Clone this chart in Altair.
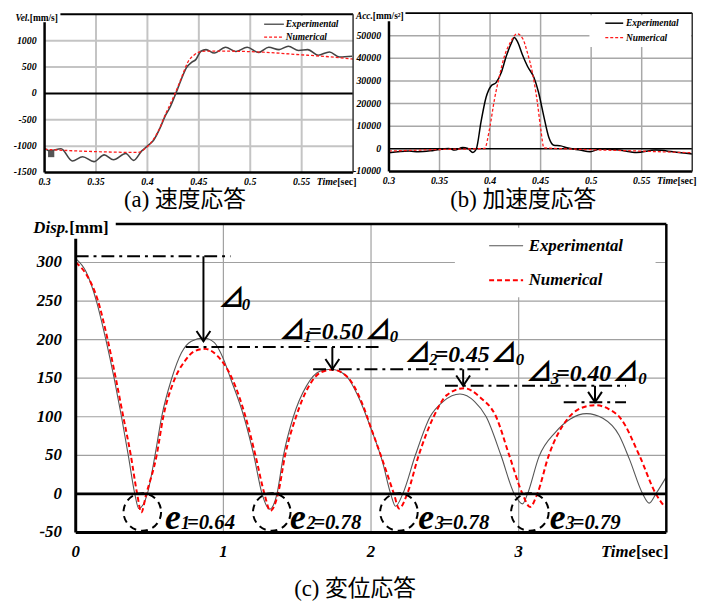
import altair as alt
import pandas as pd

# ---------------- (a) velocity response ----------------
a_exp_t = [0.300, 0.305, 0.316, 0.327, 0.337, 0.348, 0.358, 0.367, 0.379, 0.3865, 0.3945, 0.401, 0.406,
           0.412, 0.417, 0.422, 0.428, 0.433, 0.438, 0.443, 0.447, 0.452, 0.457, 0.465, 0.476, 0.486,
           0.497, 0.508, 0.518, 0.528, 0.537, 0.547, 0.556, 0.566, 0.577, 0.587, 0.599]
a_exp_v = [-1044, -1090, -1050, -1281, -1200, -1294, -1165, -1258, -1138, -1270, -1090, -981, -888,
           -669, -440, -263, 19, 269, 488, 590, 640, 800, 831, 765, 875, 795,
           875, 775, 875, 831, 894, 813, 831, 725, 785, 690, 705]
a_num_t = [0.300, 0.330, 0.353, 0.391, 0.398, 0.404, 0.411, 0.417, 0.423, 0.430, 0.435, 0.439, 0.446,
           0.451, 0.456, 0.480, 0.513, 0.545, 0.577, 0.600]
a_num_v = [-1060, -1090, -1106, -1119, -1044, -919, -700, -419, -169, 144, 394, 581, 738,
           788, 800, 800, 781, 738, 694, 650]
a_mark_t = [0.3064]
a_mark_v = [-1150]
a_grid_x = [0.35, 0.40, 0.45, 0.50, 0.55]
a_grid_y = [-1000, -500, 500, 1000]
a_tick_x = [0.30, 0.35, 0.40, 0.45, 0.50, 0.55]
a_tick_x_lbl = ["0.3", "0.35", "0.4", "0.45", "0.5", "0.55"]
a_tick_y = [-1500, -1000, -500, 0, 500, 1000]

# ---------------- (b) acceleration response ----------------
b_exp_t = [0.300, 0.320, 0.329, 0.344, 0.359, 0.365, 0.373, 0.378, 0.383, 0.3865, 0.391, 0.396, 0.401,
           0.406, 0.411, 0.416, 0.421, 0.424, 0.427, 0.432, 0.437, 0.4435, 0.448, 0.453, 0.458, 0.463,
           0.470, 0.476, 0.489, 0.499, 0.509, 0.528, 0.545, 0.564, 0.581, 0.600]
b_exp_a = [-1700, -1000, -1310, -740, 130, -570, 580, 130, -1600, 130, 11790, 22700, 27800,
           29260, 33600, 40900, 46700, 49200, 47500, 41600, 36500, 31400, 24900, 14700, 5240, 1600,
           1300, 440, -570, -1310, -130, -570, -1600, -570, -1310, -2330]
b_num_t = [0.300, 0.352, 0.3946, 0.3995, 0.4044, 0.4093, 0.4142, 0.4207, 0.4266, 0.4321, 0.437, 0.4419,
           0.4468, 0.4501, 0.4533, 0.4827, 0.548, 0.600]
b_num_a = [-1000, -290, 130, 8870, 22000, 32200, 40900, 47500, 50900, 48900, 42400, 33600,
           20500, 8870, 440, -130, -1000, -1750]
b_grid_x = [0.35, 0.40, 0.45, 0.50, 0.55]
b_grid_y = [10000, 20000, 30000, 40000, 50000]
b_tick_x = [0.30, 0.35, 0.40, 0.45, 0.50, 0.55]
b_tick_x_lbl = ["0.3", "0.35", "0.4", "0.45", "0.5", "0.55"]
b_tick_y = [-10000, 0, 10000, 20000, 30000, 40000, 50000]

# ---------------- (c) displacement response ----------------
c_exp_t = [0.000, 0.070, 0.140, 0.204, 0.260, 0.310, 0.356, 0.400, 0.427, 0.485, 0.537, 0.582, 0.649,
           0.716, 0.783, 0.867, 0.939, 1.000, 1.050, 1.139, 1.206, 1.262, 1.313, 1.363, 1.407, 1.474,
           1.563, 1.653, 1.731, 1.831, 1.921, 1.999, 2.077, 2.133, 2.166, 2.215, 2.300, 2.400, 2.490,
           2.602, 2.700, 2.780, 2.880, 2.970, 3.026, 3.060, 3.137, 3.250, 3.350, 3.460, 3.570, 3.680,
           3.750, 3.840, 3.884, 3.929, 4.000]
c_exp_d = [305, 288, 250, 200, 150, 100, 50, 0, -19, 0, 50, 100, 149,
           183, 198, 202, 196, 175, 149, 100, 50, 0, -20, 0, 50, 100,
           140, 159, 161.5, 153, 123, 85, 42, 0, -16, 0, 50, 100, 120,
           129.5, 120, 100, 50, 0, -13, 0, 48, 80, 97, 104, 98, 76,
           45, 0, -12, 0, 22]
c_num_t = [0.000, 0.070, 0.151, 0.216, 0.271, 0.322, 0.373, 0.416, 0.444, 0.478, 0.548, 0.593, 0.660,
           0.738, 0.805, 0.876, 0.961, 1.061, 1.150, 1.217, 1.278, 1.318, 1.370, 1.418, 1.492, 1.574,
           1.664, 1.738, 1.843, 1.932, 2.010, 2.088, 2.155, 2.190, 2.245, 2.323, 2.424, 2.513, 2.631,
           2.740, 2.847, 2.936, 3.026, 3.077, 3.126, 3.204, 3.330, 3.420, 3.516, 3.610, 3.690, 3.817,
           3.929, 3.990]
c_num_d = [300, 285, 250, 200, 150, 100, 50, 0, -24, 0, 50, 100, 144,
           172, 185, 188, 178.6, 148.7, 100, 50, 0, -22, 0, 50, 100, 138,
           158, 161, 151, 121, 80, 38, 0, -19, 0, 50, 100, 128, 137,
           125, 100, 50, 0, -17, 0, 50, 97, 111, 115, 110, 98, 50,
           0, -17]
c_grid_x = [1, 2, 3]
c_grid_y = [50, 100, 150, 200, 250, 300]
c_tick_x = [0, 1, 2, 3]
c_tick_x_lbl = ["0", "1", "2", "3"]
c_tick_y = [-50, 0, 50, 100, 150, 200, 250, 300]

# annotation: dash-dot reference levels, arrows, circles, labels
c_dd_y = [308, 190.4, 161.5, 140.1, 118.8]
c_dd_x0 = [0.0, 0.745, 1.608, 2.501, 3.305]
c_dd_x1 = [1.048, 2.052, 2.823, 3.727, 3.727]
c_arr_x = [0.865, 1.738, 2.624, 3.517]
c_arr_top = [308, 190.4, 161.5, 140.1]
c_arr_tip = [197.8, 161.5, 140.1, 118.8]
c_circ_x = [0.451, 1.328, 2.189, 3.076]
c_circ_y = [-23.5, -23.5, -23.5, -23.5]
c_tri_x = [0.965, 1.376, 1.958, 2.226, 2.809, 3.050, 3.633]
c_tri_y = [242.3, 200.6, 200.6, 171.2, 171.2, 146.8, 146.8]
c_dsub_x = [1.125, 1.543, 2.127, 2.394, 2.980, 3.218, 3.810]
c_dsub_y = [238.5, 197.4, 197.4, 166.7, 166.7, 142.3, 142.3]
c_dsub_t = ["0", "1", "0", "2", "0", "3", "0"]
c_deq_x = [1.574, 2.431, 3.254]
c_deq_y = [200.6, 171.2, 146.8]
c_deq_t = ["=0.50", "=0.45", "=0.40"]
c_e_x = [0.604, 1.452, 2.320, 3.211]
c_esub_x = [0.713, 1.564, 2.434, 3.318]
c_esub_t = ["1", "2", "3", "3"]
c_eeq_x = [0.753, 1.608, 2.475, 3.365]
c_eeq_t = ["=0.64", "=0.78", "=0.78", "=0.79"]
c_e_y = -45.8

SERIF = "'Liberation Serif', 'Times New Roman', Times, serif"
CJK = "'Liberation Serif', 'Times New Roman', 'Noto Sans CJK JP', serif"
TRI = "'Noto Sans CJK JP', 'DejaVu Sans', sans-serif"


def axes(xdom, xrng, ydom, yrng):
    xs = alt.Scale(domain=xdom, range=xrng, nice=False, zero=False)
    ys = alt.Scale(domain=ydom, range=yrng, nice=False, zero=False)

    def X(f):
        return alt.X(f, type="quantitative", scale=xs, axis=None)

    def Y(f):
        return alt.Y(f, type="quantitative", scale=ys, axis=None)
    return X, Y


def hlines(X, Y, ys, x0, x1, **mk):
    df = pd.DataFrame({"y": ys, "x0": x0, "x1": x1})
    return alt.Chart(df).mark_rule(**mk).encode(x=X("x0"), x2="x1", y=Y("y"))


def vlines(X, Y, xs, y0, y1, **mk):
    df = pd.DataFrame({"x": xs, "y0": y0, "y1": y1})
    return alt.Chart(df).mark_rule(**mk).encode(x=X("x"), y=Y("y0"), y2="y1")


def box(X, Y, x0, x1, y0, y1, **mk):
    df = pd.DataFrame({"x0": [x0], "x1": [x1], "y0": [y0], "y1": [y1]})
    return alt.Chart(df).mark_rect(**mk).encode(x=X("x0"), x2="x1", y=Y("y0"), y2="y1")


def texts(X, Y, xs, ys, labels, **mk):
    df = pd.DataFrame({"x": xs, "y": ys, "t": labels})
    return alt.Chart(df).mark_text(**mk).encode(x=X("x"), y=Y("y"), text="t:N")


def curve(X, Y, ts, vs, **mk):
    df = pd.DataFrame({"x": ts, "y": vs})
    return alt.Chart(df).mark_line(interpolate="monotone", **mk).encode(x=X("x"), y=Y("y"))


BI = dict(font=SERIF, fontStyle="italic", fontWeight="bold", color="black")
B = dict(font=SERIF, fontWeight="bold", color="black")

# ================= panel (a) =================
XA, YA = axes([0.3, 0.6], [37, 349], [-1500, 1500], [163, 3])
panelA = alt.layer(
    vlines(XA, YA, a_grid_x, -1500, 1500, color="#c4c4c4", strokeWidth=2),
    hlines(XA, YA, a_grid_y, 0.3, 0.6, color="#c4c4c4", strokeWidth=2),
    box(XA, YA, 0.5096, 0.5865, 1030, 1470, color="white"),
    hlines(XA, YA, [0], 0.3, 0.6, color="black", strokeWidth=2),
    curve(XA, YA, a_exp_t, a_exp_v, color="#444444", strokeWidth=1.6),
    curve(XA, YA, a_num_t, a_num_v, color="#ff1a1a", strokeWidth=1.3, strokeDash=[3, 2]),
    alt.Chart(pd.DataFrame({"x": a_mark_t, "y": a_mark_v})).mark_square(
        size=40, color="#555555", opacity=1).encode(x=XA("x"), y=YA("y")),
    vlines(XA, YA, [0.3], -1500, 1350, color="black", strokeWidth=2.5),
    hlines(XA, YA, [-1500], 0.3, 0.6, color="black", strokeWidth=2.5),
    hlines(XA, YA, [1500], 0.3154, 0.6, color="black", strokeWidth=2),
    vlines(XA, YA, [0.6], -1500, 1500, color="#333333", strokeWidth=1.5),
    hlines(XA, YA, [1312], 0.5135, 0.5327, color="#444444", strokeWidth=1.3),
    hlines(XA, YA, [1069], 0.5135, 0.5327, color="#ff1a1a", strokeWidth=1.3, strokeDash=[3, 2]),
    texts(XA, YA, [0.5346, 0.5346], [1312, 1069], ["Experimental", "Numerical"],
          align="left", baseline="middle", fontSize=9.5, **BI),
    texts(XA, YA, [0.3] * len(a_tick_y), a_tick_y, [str(v) for v in a_tick_y],
          align="right", baseline="middle", dx=-8, fontSize=10, **BI),
    texts(XA, YA, a_tick_x, [-1500] * len(a_tick_x), a_tick_x_lbl,
          align="center", baseline="middle", dy=10, fontSize=10, **BI),
    texts(XA, YA, [0.5846], [-1500], ["Time"], align="right", baseline="middle", dy=10,
          fontSize=10, **BI),
    texts(XA, YA, [0.5846], [-1500], ["[sec]"], align="left", baseline="middle", dy=10,
          fontSize=10, **B),
    texts(XA, YA, [0.2856], [1425], ["Vel."], align="right", baseline="middle", fontSize=9.5, **BI),
    texts(XA, YA, [0.2856], [1425], ["[mm/s]"], align="left", baseline="middle", fontSize=9.5, **B),
    texts(XA, YA, [0.4365], [-2025], ["(a)  速度応答"], align="center", baseline="middle",
          fontSize=23, font=CJK, color="black"),
)

# ================= panel (b) =================
XB, YB = axes([0.3, 0.6], [385.3, 692], [-10000, 60000], [161.9, 1.8])
panelB = alt.layer(
    vlines(XB, YB, b_grid_x, -10000, 60000, color="#a8a8a8", strokeWidth=1.5),
    hlines(XB, YB, b_grid_y, 0.3, 0.6, color="#a8a8a8", strokeWidth=1.5),
    box(XB, YB, 0.4983, 0.5990, 45050, 59050, color="white"),
    hlines(XB, YB, [0], 0.3, 0.6, color="black", strokeWidth=1.5),
    curve(XB, YB, b_exp_t, b_exp_a, color="black", strokeWidth=1.5),
    curve(XB, YB, b_num_t, b_num_a, color="#ff1a1a", strokeWidth=1.3, strokeDash=[3, 2]),
    vlines(XB, YB, [0.3], -10000, 56400, color="black", strokeWidth=2.5),
    hlines(XB, YB, [-10000], 0.3, 0.6, color="black", strokeWidth=2.5),
    hlines(XB, YB, [60000], 0.3163, 0.6, color="black", strokeWidth=2),
    vlines(XB, YB, [0.6], -10000, 60000, color="#333333", strokeWidth=1.5),
    hlines(XB, YB, [55550], 0.514, 0.5317, color="black", strokeWidth=1.5),
    hlines(XB, YB, [49120], 0.514, 0.5317, color="#ff1a1a", strokeWidth=1.3, strokeDash=[3, 2]),
    texts(XB, YB, [0.5345, 0.5345], [55550, 49120], ["Experimental", "Numerical"],
          align="left", baseline="middle", fontSize=9.5, **BI),
    texts(XB, YB, [0.3] * len(b_tick_y), b_tick_y, [str(v) for v in b_tick_y],
          align="right", baseline="middle", dx=-8, fontSize=10, **BI),
    texts(XB, YB, b_tick_x, [-10000] * len(b_tick_x), b_tick_x_lbl,
          align="center", baseline="middle", dy=10, fontSize=10, **BI),
    texts(XB, YB, [0.5854], [-10000], ["Time"], align="right", baseline="middle", dy=10,
          fontSize=10, **BI),
    texts(XB, YB, [0.5854], [-10000], ["[sec]"], align="left", baseline="middle", dy=10,
          fontSize=10, **B),
    texts(XB, YB, [0.284], [58600], ["Acc."], align="right", baseline="middle", fontSize=9.5, **BI),
    texts(XB, YB, [0.284], [58600], ["[mm/s²]"], align="left", baseline="middle", fontSize=9.5, **B),
    texts(XB, YB, [0.4328], [-22745], ["(b)  加速度応答"], align="center", baseline="middle",
          fontSize=23, font=CJK, color="black"),
)

# ================= panel (c) =================
XC, YC = axes([0, 4], [68.5, 665.8], [-50, 350], [527, 215])
DD = [13, 5, 3, 5]
panelC = alt.layer(
    vlines(XC, YC, c_grid_x, -50, 350, color="#a0a0a0", strokeWidth=1.2),
    hlines(XC, YC, c_grid_y, 0, 4, color="#a0a0a0", strokeWidth=1.2),
    box(XC, YC, 2.568, 3.927, 255, 345, color="white"),
    curve(XC, YC, c_exp_t, c_exp_d, color="#555555", strokeWidth=1.1),
    curve(XC, YC, c_num_t, c_num_d, color="#ff0000", strokeWidth=2, strokeDash=[5, 3]),
    hlines(XC, YC, [0], 0, 4, color="black", strokeWidth=3),
    vlines(XC, YC, [0], -50, 330.8, color="black", strokeWidth=3),
    hlines(XC, YC, [-50], 0, 4, color="black", strokeWidth=3),
    hlines(XC, YC, [350], 0.271, 4, color="black", strokeWidth=2.5),
    vlines(XC, YC, [4], -50, 350, color="black", strokeWidth=2.5),
    # dash-dot reference levels
    alt.Chart(pd.DataFrame({"y": c_dd_y, "x0": c_dd_x0, "x1": c_dd_x1})).mark_rule(
        color="black", strokeWidth=2, strokeDash=DD).encode(x=XC("x0"), x2="x1", y=YC("y")),
    # arrows
    alt.Chart(pd.DataFrame({"x": c_arr_x, "y0": c_arr_top, "y1": c_arr_tip})).mark_rule(
        color="black", strokeWidth=2).encode(x=XC("x"), y=YC("y0"), y2="y1"),
    alt.Chart(pd.DataFrame({"x": c_arr_x, "y": c_arr_tip})).mark_point(
        shape="M-1,-1.5L0,0L1,-1.5", size=196, filled=False, color="black", strokeWidth=2,
        opacity=1).encode(x=XC("x"), y=YC("y")),
    # dashed circles
    alt.Chart(pd.DataFrame({"x": c_circ_x, "y": c_circ_y})).mark_point(
        shape="circle", size=1444, filled=False, color="black", strokeWidth=2,
        strokeDash=[7, 5], opacity=1).encode(x=XC("x"), y=YC("y")),
    # legend
    hlines(XC, YC, [321.8], 2.80, 3.03, color="#555555", strokeWidth=1.1),
    hlines(XC, YC, [276.9], 2.80, 3.03, color="#ff0000", strokeWidth=2, strokeDash=[5, 3]),
    texts(XC, YC, [3.068, 3.068], [321.8, 276.9], ["Experimental", "Numerical"],
          align="left", baseline="middle", fontSize=17, **BI),
    # ticks & titles
    texts(XC, YC, [0] * len(c_tick_y), c_tick_y, [str(v) for v in c_tick_y],
          align="right", baseline="middle", dx=-14, fontSize=17, **BI),
    texts(XC, YC, c_tick_x, [-50] * len(c_tick_x), c_tick_x_lbl,
          align="center", baseline="middle", dy=20, fontSize=17, **BI),
    texts(XC, YC, [3.794], [-50], ["Time"], align="right", baseline="middle", dy=20,
          fontSize=17, **BI),
    texts(XC, YC, [3.794], [-50], ["[sec]"], align="left", baseline="middle", dy=20,
          fontSize=17, **B),
    texts(XC, YC, [-0.0435], [345], ["Disp."], align="right", baseline="middle", fontSize=17, **BI),
    texts(XC, YC, [-0.0435], [345], ["[mm]"], align="left", baseline="middle", fontSize=17, **B),
    # delta labels
    texts(XC, YC, c_tri_x, c_tri_y, ["⊿"] * len(c_tri_x), align="left", baseline="alphabetic",
          fontSize=27, font=TRI, fontWeight="bold", color="black"),
    texts(XC, YC, c_dsub_x, c_dsub_y, c_dsub_t, align="left", baseline="alphabetic",
          fontSize=17, font=SERIF, fontStyle="italic", fontWeight="bold", color="black"),
    texts(XC, YC, c_deq_x, c_deq_y, c_deq_t, align="left", baseline="alphabetic",
          fontSize=24, **BI),
    # restitution labels
    texts(XC, YC, c_e_x, [c_e_y] * 4, ["e"] * 4, align="left", baseline="alphabetic",
          fontSize=36, **BI),
    texts(XC, YC, c_esub_x, [c_e_y - 0.4] * 4, c_esub_t, align="left", baseline="alphabetic",
          fontSize=18, **BI),
    texts(XC, YC, c_eeq_x, [c_e_y] * 4, c_eeq_t, align="left", baseline="alphabetic",
          fontSize=21, **BI),
    texts(XC, YC, [1.892], [-124], ["(c)  変位応答"], align="center", baseline="middle",
          fontSize=23, font=CJK, color="black"),
)

chart = alt.layer(panelA, panelB, panelC).resolve_scale(
    x="independent", y="independent"
).properties(
    width=713, height=595, autosize=alt.AutoSizeParams(type="none"), padding=0
).configure_view(stroke=None)

chart.save("out.html", embed_options={"renderer": "svg", "actions": False})
